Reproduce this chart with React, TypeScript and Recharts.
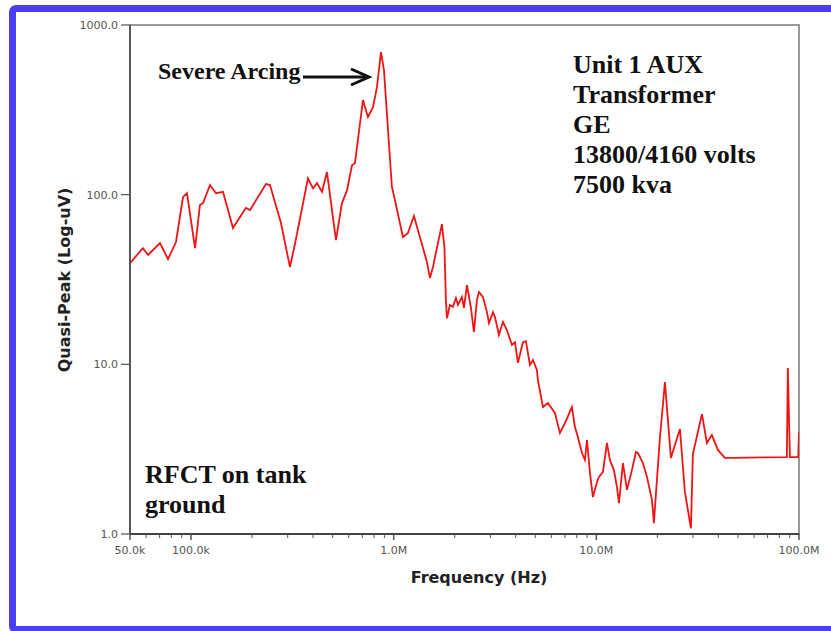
import React from "react";
import { LineChart, Line, XAxis, YAxis, ReferenceArea } from "recharts";

// frequency in Hz
const FREQ_HZ = [
  50000, 57900, 61400, 70300, 77000, 84300, 91300, 95500, 104700, 110700,
  114600, 124100, 132800, 143800, 161100, 174500, 186700, 195400, 234400, 245300,
  277900, 307700, 325800, 377600, 399800, 418400, 442800, 468800, 519000, 555700,
  588400, 622700, 644000, 705400, 746600, 790500, 827000, 865800, 895700, 980000,
  1014000, 1111000, 1176000, 1259000, 1459000, 1510000, 1563000, 1730000,
  1780000, 1810000, 1832000, 1895000, 1961000, 2029000, 2076000, 2172000, 2222000, 2300000,
  2406000, 2489000, 2575000, 2635000, 2758000, 2886000, 2953000, 3090000, 3160000, 3307000,
  3461000, 3622000, 3834000, 3967000, 4104000, 4343000, 4494000, 4703000, 4866000, 5091000,
  5149000, 5452000, 5770000, 6246000, 6613000,
  7000000, 7577000, 7840000, 8110000, 8490000, 8785000, 8990000, 9300000, 9620000, 10070000,
  10300000, 10780000, 11280000, 11670000, 12210000, 12640000, 12930000, 13530000, 14160000, 14980000,
  15680000, 16040000, 16980000, 17770000, 18810000, 19230000,
  20590000, 21800000, 23330000, 25850000, 27350000, 29290000, 29950000, 33190000, 35130000, 37160000,
  39800000, 43050000, 47200000, 87100000, 88100000, 90200000, 99100000, 100000000,
];

// quasi-peak in uV
const QUASI_PEAK_UV = [
  39.5, 48.4, 44.1, 51.8, 41.7, 52.6, 96.8, 102, 48.4, 86.9,
  89.2, 114, 102, 104, 63.6, 73.8, 83.4, 81.1, 115.5, 114,
  68, 37.5, 51.2, 125, 109, 117, 104, 136, 54, 89.2,
  106, 149, 153, 361, 287, 328, 430, 692, 542, 111,
  93, 56.2, 59.4, 74.8, 40.1, 32.3, 37.5, 67.1,
  49.1, 23.9, 18.7, 22.4, 21.8, 24.6, 22.4, 24.9, 21.5, 29.3,
  21.5, 15.5, 23.9, 26.7, 24.9, 20.3, 17.5, 20.3, 19.0, 14.9,
  17.8, 15.9, 13.0, 13.5, 10.2, 13.5, 13.7, 9.91, 10.6, 9.26,
  8.08, 5.6, 5.91, 5.17, 3.94,
  4.51, 5.6, 4.27, 3.73, 3.0, 2.73, 3.58, 2.29, 1.65, 2.02,
  2.17, 2.32, 3.44, 2.73, 2.38, 1.89, 1.52, 2.62, 1.82, 2.38,
  3.04, 3.0, 2.62, 2.17, 1.59, 1.16,
  3.68, 7.87, 2.81, 4.16, 1.77, 1.08, 2.96, 5.09, 3.44, 3.83,
  3.13, 2.81, 2.81, 2.84, 9.51, 2.84, 2.84, 3.99,
];

const X_TICKS = [
  50000, 60000, 70000, 80000, 90000,
  100000, 200000, 300000, 400000, 500000, 600000, 700000, 800000, 900000,
  1000000, 2000000, 3000000, 4000000, 5000000, 6000000, 7000000, 8000000, 9000000,
  10000000, 20000000, 30000000, 40000000, 50000000, 60000000, 70000000, 80000000, 90000000,
  100000000,
];
const X_LABEL_VALUES = [50000, 100000, 1000000, 10000000, 100000000];
const X_LABEL_TEXT = ["50.0k", "100.0k", "1.0M", "10.0M", "100.0M"];

const Y_TICKS = [1, 10, 100, 1000];
const Y_LABEL_TEXT = ["1.0", "10.0", "100.0", "1000.0"];

const NOTE_LINES = ["Unit 1 AUX", "Transformer", "GE", "13800/4160 volts", "7500 kva"];
const SENSOR_LINES = ["RFCT on tank", "ground"];

const data = FREQ_HZ.map((f, i) => ({ f, v: QUASI_PEAK_UV[i] }));

const tickFont = "'DejaVu Sans', Verdana, sans-serif";
const serif = "'Liberation Serif', 'Times New Roman', serif";

function XTick(props: any) {
  const { x, y, payload } = props;
  const idx = X_LABEL_VALUES.indexOf(payload.value);
  const major = idx >= 0;
  return (
    <g>
      <line x1={x} x2={x} y1={y} y2={y + (major ? 6 : 4)} stroke="#555" strokeWidth={major ? 1.5 : 1} />
      {major && (
        <text x={x} y={y + 20} textAnchor="middle" fontSize={11} fill="#555" fontFamily={tickFont}>
          {X_LABEL_TEXT[idx]}
        </text>
      )}
    </g>
  );
}

function YTick(props: any) {
  const { x, y, payload } = props;
  const idx = Y_TICKS.indexOf(payload.value);
  return (
    <g>
      <line x1={x - 9} x2={x} y1={y} y2={y} stroke="#555" strokeWidth={1.2} />
      <text x={x - 12} y={y + 4} textAnchor="end" fontSize={11} fill="#555" fontFamily={tickFont}>
        {Y_LABEL_TEXT[idx]}
      </text>
    </g>
  );
}

export default function App() {
  return (
    <div style={{ position: "absolute", left: 0, top: 0, width: 831, height: 631, overflow: "hidden", background: "#fff" }}>
      <div
        style={{
          position: "absolute",
          left: 9,
          top: 5,
          width: 840,
          height: 628,
          boxSizing: "border-box",
          border: "7px solid #4b3ef0",
          borderRadius: 7,
        }}
      />
      <div style={{ position: "absolute", left: 0, top: 0 }}>
        <LineChart width={831} height={631} data={data} margin={{ top: 25, right: 32, bottom: 67, left: 70 }}>
          <ReferenceArea x1={50000} x2={100000000} y1={1} y2={1000} fill="none" stroke="#999" strokeWidth={2} ifOverflow="visible" />
          <XAxis
            type="number"
            dataKey="f"
            scale="log"
            domain={[50000, 100000000]}
            allowDataOverflow
            ticks={X_TICKS}
            interval={0}
            height={30}
            tickSize={0}
            tickMargin={0}
            tickLine={false}
            axisLine={{ stroke: "#444", strokeWidth: 2 }}
            tick={<XTick />}
          />
          <YAxis
            type="number"
            scale="log"
            domain={[1, 1000]}
            allowDataOverflow
            ticks={Y_TICKS}
            interval={0}
            width={60}
            tickSize={0}
            tickMargin={0}
            tickLine={false}
            axisLine={{ stroke: "#444", strokeWidth: 1.5 }}
            tick={<YTick />}
          />
          <Line type="linear" dataKey="v" stroke="#f01414" strokeWidth={1.8} dot={false} isAnimationActive={false} />
        </LineChart>
      </div>
      <svg width={831} height={631} style={{ position: "absolute", left: 0, top: 0, pointerEvents: "none" }}>
        <text x={158} y={79} fontFamily={serif} fontWeight="bold" fontSize={24} fill="#111">
          Severe Arcing
        </text>
        <line x1={303} y1={77} x2={368} y2={77} stroke="#111" strokeWidth={3} />
        <polyline points="351,69 369,77 351,85" fill="none" stroke="#111" strokeWidth={3} />
        {NOTE_LINES.map((t, i) => (
          <text key={t} x={573} y={73 + i * 30} fontFamily={serif} fontWeight="bold" fontSize={26} fill="#111">
            {t}
          </text>
        ))}
        {SENSOR_LINES.map((t, i) => (
          <text key={t} x={145} y={483 + i * 30} fontFamily={serif} fontWeight="bold" fontSize={26} fill="#111">
            {t}
          </text>
        ))}
        <text x={479} y={583} textAnchor="middle" fontFamily={tickFont} fontWeight="bold" fontSize={16} fill="#222">
          Frequency (Hz)
        </text>
        <text
          transform="rotate(-90)"
          x={-280}
          y={70}
          textAnchor="middle"
          fontFamily={tickFont}
          fontWeight="bold"
          fontSize={16}
          fill="#222"
        >
          Quasi-Peak (Log-uV)
        </text>
      </svg>
    </div>
  );
}
